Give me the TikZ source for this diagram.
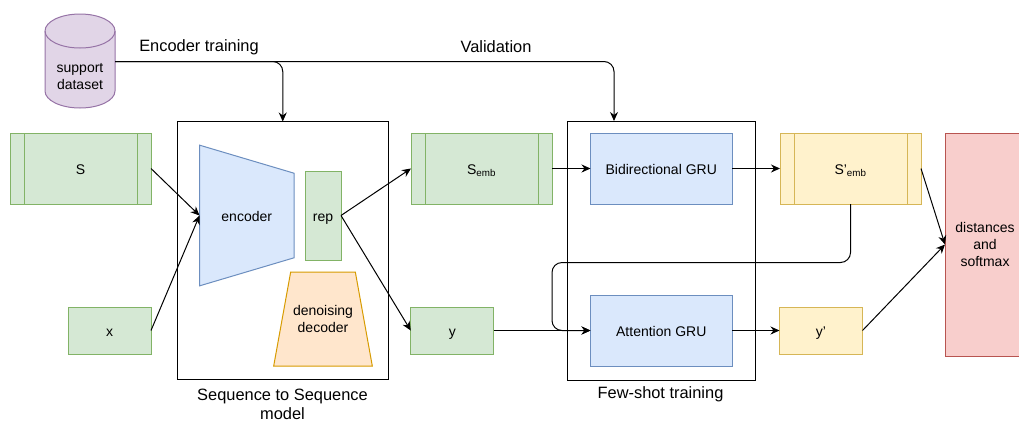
\documentclass[tikz,border=0pt]{standalone}
\usepackage{fontspec}
\setmainfont{Liberation Sans}
\usetikzlibrary{shapes.geometric,arrows.meta}
\definecolor{greenfill}{HTML}{D5E8D4}
\definecolor{greenline}{HTML}{82B366}
\definecolor{bluefill}{HTML}{DAE8FC}
\definecolor{blueline}{HTML}{6C8EBF}
\definecolor{yellowfill}{HTML}{FFF2CC}
\definecolor{yellowline}{HTML}{D6B656}
\definecolor{orangefill}{HTML}{FFE6CC}
\definecolor{orangeline}{HTML}{D79B00}
\definecolor{redfill}{HTML}{F8CECC}
\definecolor{redline}{HTML}{B85450}
\definecolor{purplefill}{HTML}{E1D5E7}
\definecolor{purpleline}{HTML}{9673A6}
\tikzset{->, % directed connectors
>={Stealth[length=9pt,width=8pt]},
every node/.style={inner sep=0pt, outer sep=0pt, align=center, font=\fontsize{14}{17}\selectfont},
block/.style={draw=#1line, fill=#1fill, line width=1pt},
oneline/.style={text height=12pt, text depth=0pt}, % single labels sit a little low
process/.style={block=#1, oneline, minimum width=141pt, minimum height=71pt,
  path picture={\draw[-, #1line, line width=1pt]
    ([xshift=14pt]path picture bounding box.north west) -- ([xshift=14pt]path picture bounding box.south west)
    ([xshift=-14pt]path picture bounding box.north east) -- ([xshift=-14pt]path picture bounding box.south east);}},
small/.style={block=#1, oneline, minimum width=83pt, minimum height=47pt},
gru/.style={block=blue, oneline, minimum width=141.5pt, minimum height=71pt},
frame/.style={draw=black, line width=1pt},
caption/.style={font=\fontsize{16.4}{19}\selectfont},
}

\begin{document}
\begin{tikzpicture}[x=1pt, y=-1pt]
\useasboundingbox (0,0) rectangle (1019,421);
% support data
\draw[-, block=purple] (45,31) arc[start angle=180, end angle=0, x radius=35pt, y radius=17pt]
  -- (115,91) arc[start angle=0, end angle=-180, x radius=35pt, y radius=17pt] -- cycle;
\draw[-, purpleline, line width=1pt] (45,31) arc[start angle=180, end angle=360, x radius=35pt, y radius=17pt];
\node (dataset) at (80,76.5) {support\\dataset};
\coordinate (dataout) at (115,61.5);
\node[caption] (enctrain) at (199,47) {Encoder training};
\node[caption] (valtrain) at (496,47) {Validation};
% outer frames
\node[frame, minimum width=211.5pt, minimum height=258pt] (seq) at (282.75,250.5) {};
\node[frame, minimum width=188pt, minimum height=259pt] (few) at (661,250.5) {};
\node[caption] (seqlabel) at (282.5,404.5) {Sequence to Sequence\\model};
\node[caption] (fewlabel) at (660.5,394.5) {Few-shot training};
\coordinate (valtop) at (614,121);
% top row
\node[process=green] (S) at (80.5,168.5) {S};
\node[process=green, right of=S, node distance=401pt] (Semb) {S\textsubscript{emb}};
\node[gru, right of=Semb, node distance=179.75pt] (bigru) {Bidirectional GRU};
\node[process=yellow, right of=bigru, node distance=189.25pt] (Spemb) {S'\textsubscript{emb}};
% bottom row
\node[small=green] (x) at (109.5,330.5) {x};
\node[small=green, right of=x, node distance=342.75pt] (y) {y};
\node[gru, right of=y, node distance=209pt] (attn) {Attention GRU};
\node[small=yellow, right of=attn, node distance=159.75pt] (yp) {y'};
% model parts
\node[trapezium, shape border rotate=270, trapezium stretches=true, trapezium left angle=85.5, trapezium right angle=85.5, block=blue, oneline, minimum width=141pt, minimum height=94.5pt] (encoder) at (246.75,215.5) {encoder};
\node[block=green, oneline, minimum width=36pt, minimum height=89pt] (rep) at (323,215.5) {rep};
\node[trapezium, trapezium stretches=true, trapezium left angle=60, trapezium right angle=60, block=orange, minimum width=99pt, minimum height=94pt] (decoder) at (323,319) {denoising\\decoder};
\node[block=red, minimum width=80pt, minimum height=223pt] (dist) at (985,244.5) {distances\\and\\softmax};
% connectors
\path[line width=1pt] (S.east) edge (encoder.west)
(x.east) edge (encoder.west)
(rep.east) edge (Semb.west)
(rep.east) edge (y.west)
(Semb.east) edge (bigru.west)
(bigru.east) edge (Spemb.west)
(y.east) edge (attn.west)
(attn.east) edge (yp.west)
(Spemb.east) edge (dist.west)
(yp.east) edge (dist.west);
\draw[line width=1pt, rounded corners=10pt] (dataout) -| (seq.north);
\draw[line width=1pt, rounded corners=10pt] (dataout) -| (valtop);
\draw[line width=1pt, rounded corners=10pt] (Spemb.south) |- (552,262.5) |- (attn.west);
\end{tikzpicture}
\end{document}
